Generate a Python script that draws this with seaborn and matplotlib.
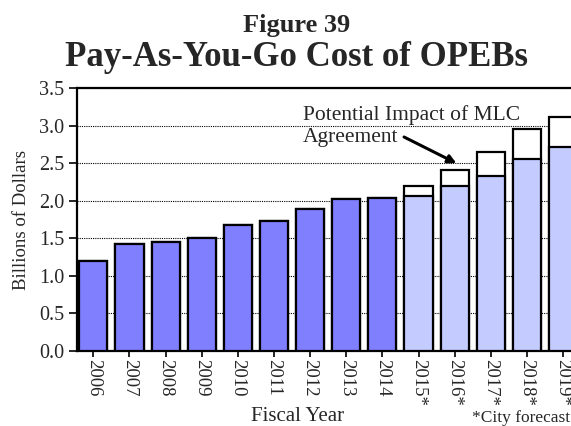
import numpy as np
import pandas as pd
import seaborn as sns
import matplotlib.pyplot as plt

years = ['2006', '2007', '2008', '2009', '2010', '2011', '2012', '2013', '2014',
         '2015*', '2016*', '2017*', '2018*', '2019*']
base_cost = [1.20, 1.42, 1.45, 1.50, 1.68, 1.73, 1.89, 2.03, 2.04,
             2.07, 2.20, 2.33, 2.56, 2.72]
mlc_impact = [0, 0, 0, 0, 0, 0, 0, 0, 0, 0.13, 0.21, 0.32, 0.39, 0.39]
n_actual = 9

df = pd.DataFrame({'year': years, 'base': base_cost,
                   'total': np.array(base_cost) + np.array(mlc_impact)})

sns.set_style('white')
plt.rcParams['font.family'] = ['Liberation Serif', 'DejaVu Serif']

fig = plt.figure(figsize=(5.71, 4.26), dpi=100)
ax = fig.add_axes([0.135, 0.176, 0.87, 0.617])

# white tops = potential MLC impact, then the base cost drawn over them
sns.barplot(data=df, x='year', y='total', color='white', edgecolor='black',
            linewidth=1.6, width=0.78, saturation=1, ax=ax, zorder=2)
base_colors = ['#8080ff'] * n_actual + ['#c4cbff'] * (len(years) - n_actual)
sns.barplot(data=df, x='year', y='base', hue='year', palette=base_colors,
            legend=False, edgecolor='black', linewidth=1.6, width=0.78,
            saturation=1, ax=ax, zorder=3)

ax.set_ylim(0, 3.5)
ax.set_xlim(-0.45, 13.3)
ax.set_yticks(np.arange(0, 3.51, 0.5))
ax.set_yticklabels(['{:.1f}'.format(v) for v in np.arange(0, 3.51, 0.5)], fontsize=14.5)
ax.set_xticks(range(len(years)))
ax.set_xticklabels(years, rotation=-90, fontsize=13.5)
ax.yaxis.grid(True, linestyle=(0, (1, 1)), color='black', linewidth=0.8, zorder=0)
ax.set_axisbelow(True)
ax.tick_params(axis='y', direction='out', length=6, width=1.2, color='black', left=True, pad=3)
ax.tick_params(axis='x', direction='out', length=4, width=1.2, color='black', bottom=True, pad=2)

for side in ['left', 'bottom', 'top']:
    ax.spines[side].set_color('black')
    ax.spines[side].set_linewidth(1.6)
ax.spines['right'].set_visible(False)

ax.set_ylabel('Billions of Dollars', fontsize=13.5)
ax.yaxis.set_label_coords(-0.095, 0.5)
ax.set_xlabel('Fiscal Year', fontsize=15)
ax.xaxis.set_label_coords(0.443, -0.212)

ax.text(5.8, 3.27, 'Potential Impact of MLC\nAgreement', fontsize=15.5,
        linespacing=1.2, ha='left', va='top', zorder=5)
ax.annotate('', xy=(10.05, 2.50), xytext=(8.6, 2.85),
            arrowprops=dict(arrowstyle='-|>', color='black', lw=2.2, mutation_scale=12,
                            shrinkA=0, shrinkB=0), zorder=5)

fig.text(0.52, 0.94, 'Figure 39', ha='center', va='center', fontsize=19, fontweight='bold')
fig.text(0.52, 0.864, 'Pay-As-You-Go Cost of OPEBs', ha='center', va='center',
         fontsize=25, fontweight='bold')
fig.text(0.998, 0.0, '*City forecast', ha='right', va='bottom', fontsize=12.5)

fig.savefig('out.png', dpi=100)
